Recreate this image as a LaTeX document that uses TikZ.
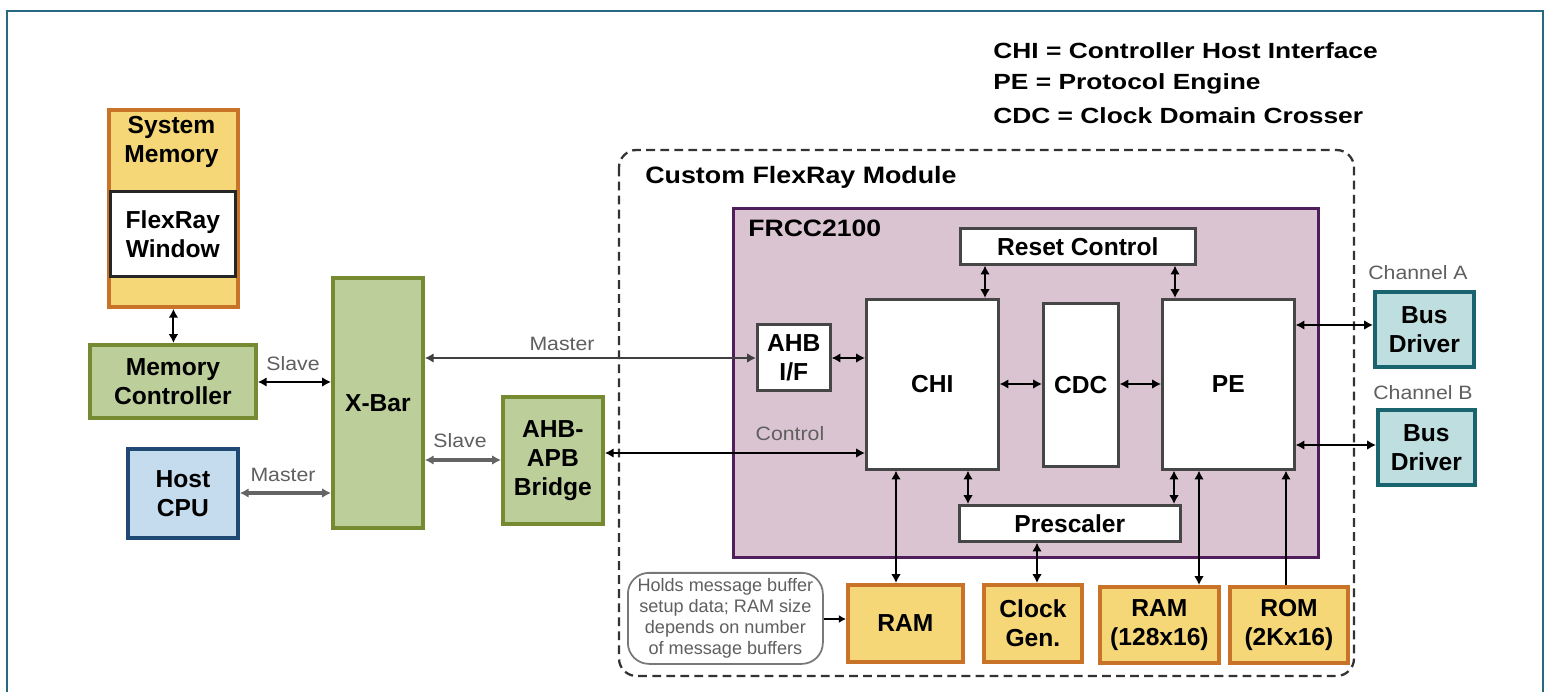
\documentclass[tikz,border=0pt]{standalone}
\usepackage{graphicx}
\usepackage{fontspec}
\setmainfont{Liberation Sans}
\usetikzlibrary{arrows.meta,calc}
\definecolor{framec}{RGB}{40,105,130}
\definecolor{ofill}{RGB}{245,215,120}
\definecolor{oline}{RGB}{200,115,40}
\definecolor{gfill}{RGB}{188,206,154}
\definecolor{gline}{RGB}{118,138,50}
\definecolor{bfill}{RGB}{197,220,238}
\definecolor{bline}{RGB}{31,73,115}
\definecolor{pfill}{RGB}{219,196,210}
\definecolor{pline}{RGB}{80,30,90}
\definecolor{tfill}{RGB}{190,222,224}
\definecolor{tline}{RGB}{25,100,110}
\definecolor{wline}{RGB}{70,70,70}
\definecolor{lblgray}{RGB}{95,95,95}
\definecolor{notegray}{RGB}{120,120,120}
\definecolor{conngray}{RGB}{100,100,100}
\newcommand{\wide}[2]{\scalebox{#1}[1]{#2}}
\begin{document}
\begin{tikzpicture}[x=0.02cm,y=-0.02cm,
  base/.style={draw, align=center, inner sep=0pt, anchor=north west,
    font=\bfseries\fontsize{14}{16.5}\selectfont},
  orangebox/.style={base, fill=ofill, draw=oline, line width=2.2pt},
  greenbox/.style={base, fill=gfill, draw=gline, line width=2.2pt},
  bluebox/.style={base, fill=bfill, draw=bline, line width=2.2pt},
  tealbox/.style={base, fill=tfill, draw=tline, line width=2.2pt},
  whitebox/.style={base, fill=white, draw=wline, line width=1.5pt},
  purplebox/.style={base, fill=pfill, draw=pline, line width=1.8pt},
  txt/.style={align=center, inner sep=0pt, font=\bfseries\fontsize{14}{16.5}\selectfont},
  title/.style={anchor=west, inner sep=0pt, font=\bfseries\fontsize{13.5}{16}\selectfont},
  legend/.style={anchor=west, inner sep=0pt, font=\bfseries\fontsize{12.5}{15}\selectfont},
  lbl/.style={text=lblgray, inner sep=0pt, font=\fontsize{11}{12}\selectfont},
  tip/.tip={Latex[length=5pt,width=5.5pt]},
  conn/.style={draw=black, line width=1.1pt, tip-tip},
  gconn/.style={draw=conngray, line width=1.8pt, tip-tip},
]
\useasboundingbox (0,0) rectangle (1546,692);
\fill[white] (0,0) rectangle (1546,692);
% frame
\draw[framec, line width=1.6pt] (7,720) -- (7,11) -- (1543,11) -- (1543,720);

% legend
\node[legend] (leg1) at (993,51) {\wide{1.2}{CHI = Controller Host Interface}};
\node[legend] (leg2) at (993,84) {\wide{1.2}{PE = Protocol Engine}};
\node[legend] (leg3) at (993,116) {\wide{1.2}{CDC = Clock Domain Crosser}};

% left side
\node[orangebox, minimum width=129*0.02cm, minimum height=197*0.02cm] (sysmem) at (107,108) {};
\node[txt] (smtext) at (171.5,142) {System\\Memory};
\node[whitebox, draw=black!85, minimum width=125*0.02cm, minimum height=85*0.02cm] (frwin) at (109,190) {FlexRay\\Window};
\node[greenbox, minimum width=166*0.02cm, minimum height=73*0.02cm] (memctl) at (88,343) {Memory\\Controller};
\node[bluebox, minimum width=110*0.02cm, minimum height=89*0.02cm] (hostcpu) at (126,447) {Host\\CPU};
\node[greenbox, minimum width=90*0.02cm, minimum height=250*0.02cm] (xbar) at (331,276) {X-Bar};
\node[greenbox, minimum width=100*0.02cm, minimum height=127*0.02cm] (bridge) at (501,395) {AHB-\\APB\\Bridge};

% custom module
\draw[black!80, line width=1.3pt, dash pattern=on 5pt off 3pt, rounded corners=10pt] (619,150) rectangle (1354,676);
\node[title] (cfm) at (645,177) {\wide{1.13}{Custom FlexRay Module}};
\node[purplebox, minimum width=585*0.02cm, minimum height=349*0.02cm] (frcc) at (732,207) {};
\node[title] (frcclbl) at (748,228) {\wide{1.12}{FRCC2100}};
\node[whitebox, minimum width=235*0.02cm, minimum height=36*0.02cm] (reset) at (959,227) {Reset Control};
\node[whitebox, minimum width=73*0.02cm, minimum height=66*0.02cm] (ahbif) at (756,323) {AHB\\I/F};
\node[whitebox, minimum width=132*0.02cm, minimum height=170*0.02cm] (chi) at (865,298) {CHI};
\node[whitebox, minimum width=75*0.02cm, minimum height=163*0.02cm] (cdc) at (1042,302) {CDC};
\node[whitebox, minimum width=132*0.02cm, minimum height=170*0.02cm] (pe) at (1161,298) {PE};
\node[whitebox, minimum width=221*0.02cm, minimum height=36*0.02cm] (presc) at (958,504) {Prescaler};

% bottom memories
\node[orangebox, minimum width=115*0.02cm, minimum height=77*0.02cm] (ram) at (846,583) {RAM};
\node[orangebox, minimum width=98*0.02cm, minimum height=77*0.02cm] (clk) at (982,583) {Clock\\Gen.};
\node[orangebox, minimum width=119*0.02cm, minimum height=76*0.02cm] (ram128) at (1098,585) {RAM\\(128x16)};
\node[orangebox, minimum width=118*0.02cm, minimum height=76*0.02cm] (rom) at (1228,585) {ROM\\(2Kx16)};
\node[base, draw=notegray, line width=1pt, rounded corners=12pt, text=lblgray,
  font=\fontsize{10.3}{12}\selectfont, minimum width=195*0.02cm, minimum height=91*0.02cm] (note) at (627,572)
  {Holds message buffer\\setup data; RAM size\\depends on number\\of message buffers};

% bus drivers
\node[tealbox, minimum width=99*0.02cm, minimum height=75*0.02cm] (busa) at (1373,290) {Bus\\Driver};
\node[tealbox, minimum width=97*0.02cm, minimum height=75*0.02cm] (busb) at (1376,408) {Bus\\Driver};
\node[lbl] (cha) at (1418,273) {\wide{1.1}{Channel A}};
\node[lbl] (chb) at (1423,393) {\wide{1.1}{Channel B}};

% connectors
\draw[conn] (sysmem.south) -- (sysmem.south |- memctl.north);
\draw[conn] (memctl.east |- 0,382) -- (xbar.west |- 0,382);
\node[lbl] (l1) at (293,364) {\wide{1.1}{Slave}};
\draw[gconn] (hostcpu.east |- 0,493) -- (xbar.west |- 0,493);
\node[lbl] (l2) at (283,475) {\wide{1.1}{Master}};
\draw[gconn] (xbar.east |- 0,460) -- (bridge.west |- 0,460);
\node[lbl] (l3) at (460,441) {\wide{1.1}{Slave}};
\draw[conn, draw=black!75, line width=1.5pt] (xbar.east |- 0,358) -- (ahbif.west |- 0,358);
\node[lbl] (l4) at (562,344) {\wide{1.1}{Master}};
\draw[conn] (bridge.east |- 0,453) -- (chi.west |- 0,453);
\node[lbl] (l5) at (790,434) {\wide{1.1}{Control}};

\draw[conn] (ahbif.east |- 0,358) -- (chi.west |- 0,358);
\draw[conn] (chi.east |- 0,384) -- (cdc.west |- 0,384);
\draw[conn] (cdc.east |- 0,384) -- (pe.west |- 0,384);
\draw[conn] (reset.south -| 985,0) -- (chi.north -| 985,0);
\draw[conn] (reset.south -| 1175,0) -- (pe.north -| 1175,0);
\draw[conn] (chi.south -| 968,0) -- (presc.north -| 968,0);
\draw[conn] (pe.south -| 1174,0) -- (presc.north -| 1174,0);
\draw[conn] (chi.south -| 896,0) -- (ram.north -| 896,0);
\draw[conn] (presc.south -| 1037,0) -- (clk.north -| 1037,0);
\draw[conn] (pe.south -| 1199,0) -- (ram128.north -| 1199,0);
\draw[conn, -tip] (rom.north -| 1286,0) -- (pe.south -| 1286,0);
\draw[conn] (pe.east |- 0,325) -- (busa.west |- 0,325);
\draw[conn] (pe.east |- 0,445) -- (busb.west |- 0,445);
\draw[draw=black, line width=0.8pt, -{Latex[length=4pt,width=4.5pt]}] (note.east |- 0,619) -- (ram.west |- 0,619);
\end{tikzpicture}
\end{document}
